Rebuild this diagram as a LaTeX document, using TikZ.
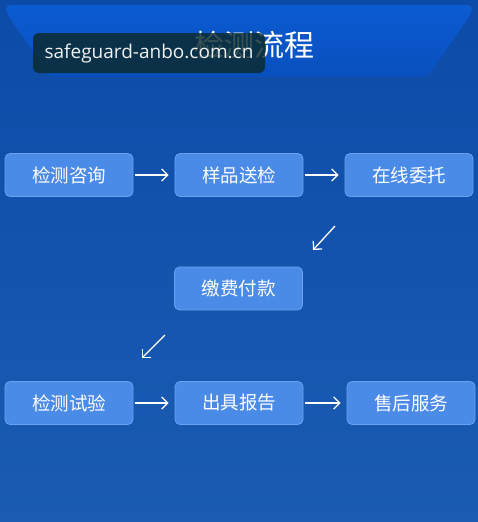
\documentclass[tikz,border=0pt]{standalone}
\usepackage{fontspec}
\newfontfamily\cjk{Noto Sans CJK SC}
\setsansfont{Open Sans}
\usetikzlibrary{arrows.meta}
\definecolor{deepblue}{HTML}{0C4BA8}
\definecolor{lowblue}{HTML}{1B5CB2}
\definecolor{bannerblue}{HTML}{0B5BD2}
\definecolor{bannerdark}{HTML}{0950BE}
\definecolor{stepfill}{HTML}{4B8BE8}
\definecolor{stepline}{HTML}{6AA2F2}
\definecolor{markbg}{HTML}{0B2A2C}

\begin{document}
\begin{tikzpicture}[x=1pt, y=-1pt,
    stepbox/.style={draw=stepline, line width=0.8pt, fill=stepfill, rounded corners=5pt,
      minimum width=128pt, minimum height=43pt, inner sep=0pt,
      text=white, font=\cjk\fontsize{18.5}{18.5}\selectfont},
    flow/.style={draw=white, line width=1.3pt, -{Straight Barb[length=6pt, width=12pt]}}]
      % Background
      \shade[top color=deepblue, bottom color=lowblue] (0,0) rectangle (478,522);
      \useasboundingbox (0,0) rectangle (478,522);

      % Title banner
      \shade[top color=bannerblue, bottom color=bannerdark, rounded corners=6pt]
        (5,5) -- (473,5) -- (471,14) -- (428,77) -- (50,77) -- (7,14) -- cycle;
      \node[text=white, font=\cjk\fontsize{30}{30}\selectfont] (title) at (254,45) {检测流程};

      % Watermark
      \fill[markbg, opacity=0.82, rounded corners=6pt] (33,33) rectangle (265,73);
      \node[text=white!88!gray, font=\sffamily\fontsize{19}{19}\selectfont] (mark) at (149,54) {safeguard-anbo.com.cn};

      % Steps, first row
      \node[stepbox] (consult) at (69,175) {检测咨询};
      \node[stepbox] (sample) at (239,175) {样品送检};
      \node[stepbox] (online) at (409,175) {在线委托};

      % Steps, middle row
      \node[stepbox] (payment) at (238.5,288.5) {缴费付款};

      % Steps, last row
      \node[stepbox] (testing) at (69,403) {检测试验};
      \node[stepbox] (report) at (239,403) {出具报告};
      \node[stepbox] (service) at (411,403) {售后服务};

      % Arrows along the rows
      \draw[flow, shorten <=2pt, shorten >=6pt] (consult) -- (sample);
      \draw[flow, shorten <=2pt, shorten >=6pt] (sample) -- (online);
      \draw[flow, shorten <=2pt, shorten >=6pt] (testing) -- (report);
      \draw[flow, shorten <=2pt, shorten >=6pt] (report) -- (service);

      % Arrows between the rows
      \coordinate (downA) at (335,226);
      \coordinate (tipA) at (313,250);
      \coordinate (downB) at (165,335);
      \coordinate (tipB) at (142,358);
      \draw[flow] (downA) -- (tipA);
      \draw[flow] (downB) -- (tipB);
    \end{tikzpicture}
\end{document}
